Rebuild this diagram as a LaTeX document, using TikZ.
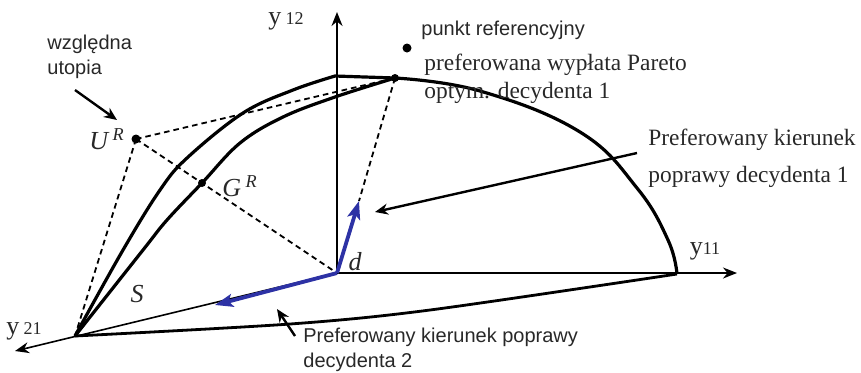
\documentclass[tikz,border=0pt]{standalone}
\usepackage{fontspec}
\setmainfont{Liberation Serif}
\setsansfont{Liberation Sans}
\usetikzlibrary{arrows.meta}
\definecolor{vecblue}{RGB}{45,50,165}
\definecolor{txtgray}{RGB}{40,40,40}

\begin{document}
\begin{tikzpicture}[x=.5pt,y=-.5pt]
\tikzset{
 curve/.style={line width=1.6pt,line join=round},
 axis/.style={line width=1pt,-{Stealth[length=7pt,width=5.5pt]}},
 aux/.style={dash pattern=on 2.8pt off 2pt,line width=.9pt},
 pointer/.style={line width=1.2pt,-{Stealth[length=6.5pt,width=5.5pt]}},
 dirvec/.style={line width=1.9pt,vecblue,-{Stealth[length=9pt,width=6.5pt,inset=2pt]}},
 dot/.style={circle,fill,inner sep=0pt,minimum size=4.5pt},
 sanslab/.style={font=\sffamily\fontsize{10}{12.5}\selectfont,text=txtgray,align=left,inner sep=0pt},
 seriflab/.style={font=\fontsize{11.7}{14}\selectfont,text=txtgray,align=left,inner sep=0pt},
 axlab/.style={font=\fontsize{13}{13}\selectfont,text=txtgray,inner sep=0pt},
 itlab/.style={font=\itshape\fontsize{13}{13}\selectfont,text=txtgray,inner sep=0pt}
}
\useasboundingbox (0,0) rectangle (861,372);
% points of the picture
\coordinate (O) at (337,273);
\coordinate (Y21) at (75,336);
\coordinate (Y11) at (677,274);
\coordinate (Top) at (335,76);
\node[dot,minimum size=4pt] (Pref) at (395,78) {};
\node[dot,minimum size=4.5pt] (Ref) at (407,48) {};
\node[dot,minimum size=4.5pt] (UR) at (136,139) {};
\node[dot,minimum size=4pt] (GR) at (202,183) {};
\coordinate (V1) at (359,201);
\coordinate (V2) at (215,305);
% axes
\draw[axis] (O) -- (337,12) coordinate (Y12tip);
\draw[axis] (O) -- (737,273) coordinate (Y11tip);
\draw[axis,line width=.8pt] (O) -- (15,351) coordinate (Y21tip);
\node[axlab] (ly12) at (286,21) {y\,{\fontsize{9}{9}\selectfont 12}};
\node[axlab] (ly11) at (705,251) {y{\fontsize{9}{9}\selectfont 11}};
\node[axlab] (ly21) at (24,331) {y\,{\fontsize{9}{9}\selectfont 21}};
% set S
\draw[curve] plot[smooth,tension=.6] coordinates {(75,336) (123,250) (160,190) (187,158) (243,113) (293,90) (335,76)} -- (Pref.center);
\draw[curve] plot[smooth,tension=.6] coordinates {(75,336) (143,250) (167,220) (202,183) (240,143) (283,117) (335,97) (395,78)};
\draw[curve] plot[smooth,tension=.7] coordinates {(395,78) (480,91) (580,132) (637,188) (668,240) (677,274)};
\draw[curve,line width=1.4pt] plot[smooth,tension=.5] coordinates {(75,336) (290,324) (430,310) (677,274)};
% auxiliary dashed lines
\draw[aux] (UR.center) -- (GR.center) -- (O);
\draw[aux] (UR.center) -- (Pref.center);
\draw[aux] (UR.center) -- (Y21);
\draw[aux] (Pref.center) -- (V1);
% preferred directions
\draw[dirvec] (O) -- (V1);
\draw[dirvec] (O) -- (V2);
% labels
\node[itlab,anchor=east] (lUR) at ([xshift=-3pt]UR.west) {U\,\textsuperscript{R}};
\node[itlab] (lGR) at (240,186) {G\,\textsuperscript{R}};
\node[itlab] (lS) at (137,294) {S};
\node[itlab] (ld) at (355,262) {d};
\node[sanslab,anchor=west] (utop) at (47,57) {względna\\utopia};
\node[sanslab,anchor=west] (ref) at (421,30) {punkt referencyjny};
\node[seriflab,anchor=west] (pareto) at (424,79) {preferowana wypłata Pareto\\optym. decydenta 1};
\node[seriflab,anchor=west,font=\fontsize{11.7}{18.5}\selectfont] (dec1) at (648,158) {Preferowany kierunek\\poprawy decydenta 1};
\node[sanslab,anchor=west] (dec2) at (303,350) {Preferowany kierunek poprawy\\decydenta 2};
% pointers
\coordinate (p1s) at (75,90);
\coordinate (p1e) at (117,120);
\coordinate (p2s) at (637,153);
\coordinate (p2e) at (375,212);
\coordinate (p3s) at (295,336);
\coordinate (p3e) at (277,309);
\draw[pointer] (p1s) -- (p1e);
\draw[pointer] (p2s) -- (p2e);
\draw[pointer] (p3s) -- (p3e);
\end{tikzpicture}
\end{document}
